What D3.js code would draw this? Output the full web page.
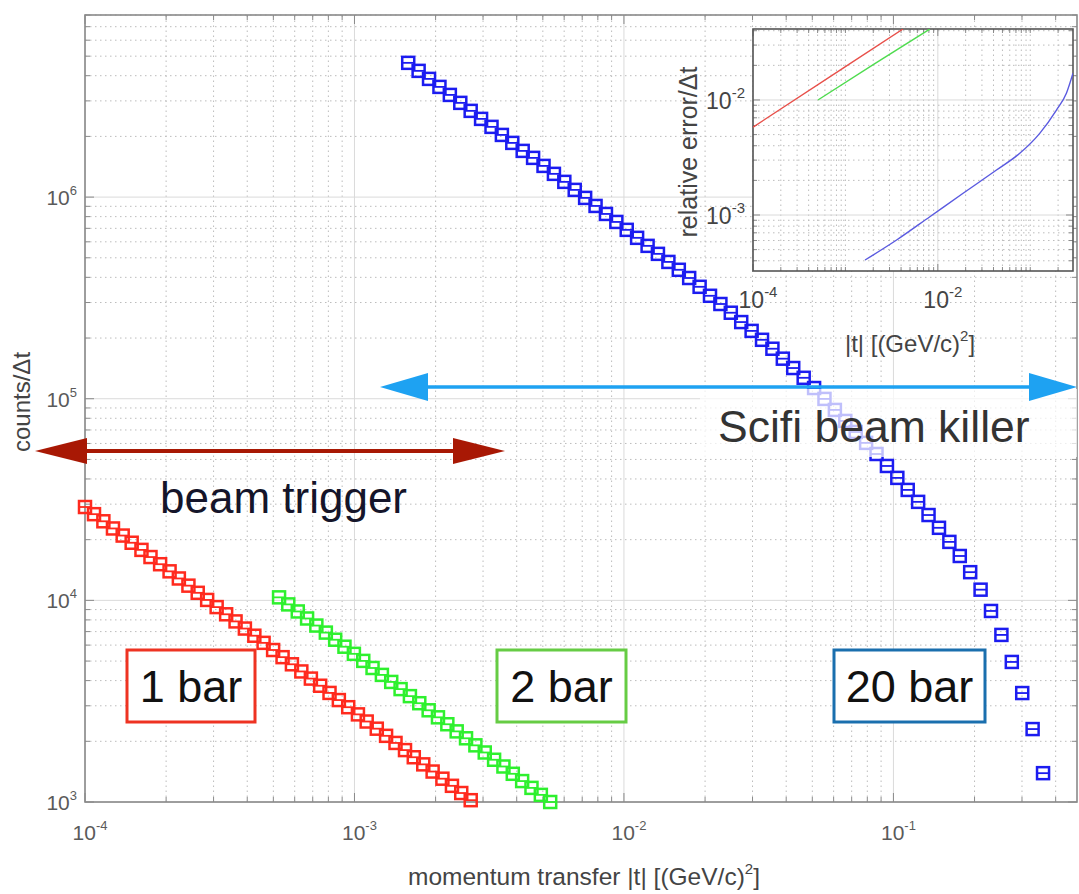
<!DOCTYPE html>
<html>
<head>
<meta charset="UTF-8">
<style>
  body { margin: 0; background: #fff; }
  svg { display: block; font-family: 'Liberation Sans', Arial, Helvetica, sans-serif; }
  .grid-minor { stroke: #bcbcbc; stroke-width: 1; stroke-dasharray: 1.5,3.5; }
  .grid-major { stroke: #dadada; stroke-width: 1; }
  .frame { fill: none; stroke: #8a8a8a; stroke-width: 1.6; }
  .tick { stroke: #8a8a8a; stroke-width: 1; }
  .ticklabel { fill: #5a5a5a; }
</style>
</head>
<body>
<svg id="chart" width="1079" height="894"></svg>
<script src="https://d3js.org/d3.v7.min.js"></script>
<script>
// ---- data ----
// 1 bar (red)
const tRed = [1.00e-4, 1.08e-4, 1.17e-4, 1.27e-4, 1.38e-4, 1.49e-4, 1.62e-4, 1.75e-4, 1.90e-4, 2.06e-4,
  2.23e-4, 2.42e-4, 2.62e-4, 2.84e-4, 3.08e-4, 3.34e-4, 3.62e-4, 3.92e-4, 4.25e-4, 4.60e-4,
  4.99e-4, 5.41e-4, 5.86e-4, 6.35e-4, 6.89e-4, 7.46e-4, 8.08e-4, 8.75e-4, 9.48e-4, 1.03e-3,
  1.11e-3, 1.21e-3, 1.31e-3, 1.42e-3, 1.54e-3, 1.66e-3, 1.80e-3, 1.95e-3, 2.12e-3, 2.30e-3,
  2.49e-3, 2.70e-3];
const cRed = [29040, 26760, 24670, 22730, 20960, 19310, 17800, 16400, 15110, 13930,
  12840, 11830, 10900, 10050, 9260, 8530, 7864, 7248, 6678, 6156,
  5673, 5228, 4819, 4441, 4093, 3772, 3475, 3203, 2952, 2720,
  2507, 2310, 2129, 1963, 1809, 1667, 1537, 1416, 1305, 1203,
  1108, 1021];
// 2 bar (green)
const tGreen = [5.25e-4, 5.68e-4, 6.16e-4, 6.67e-4, 7.22e-4, 7.83e-4, 8.48e-4, 9.18e-4, 9.95e-4, 1.078e-3,
  1.167e-3, 1.264e-3, 1.369e-3, 1.483e-3, 1.606e-3, 1.740e-3, 1.885e-3, 2.041e-3, 2.211e-3, 2.395e-3,
  2.594e-3, 2.810e-3, 3.044e-3, 3.297e-3, 3.571e-3, 3.868e-3, 4.190e-3, 4.538e-3, 4.916e-3, 5.325e-3];
const cGreen = [10350, 9550, 8810, 8130, 7500, 6920, 6380, 5890, 5430, 5010,
  4620, 4270, 3940, 3630, 3350, 3090, 2850, 2630, 2430, 2240,
  2070, 1910, 1760, 1620, 1500, 1380, 1270, 1175, 1085, 1000];
// 20 bar (blue)
const tBlue = [1.583e-3, 1.730e-3, 1.891e-3, 2.067e-3, 2.259e-3, 2.470e-3, 2.699e-3, 2.950e-3, 3.225e-3, 3.524e-3,
  3.852e-3, 4.210e-3, 4.601e-3, 5.030e-3, 5.497e-3, 6.008e-3, 6.567e-3, 7.177e-3, 7.846e-3, 8.575e-3,
  9.372e-3, 1.024e-2, 1.119e-2, 1.224e-2, 1.337e-2, 1.462e-2, 1.598e-2, 1.746e-2, 1.909e-2, 2.086e-2,
  2.280e-2, 2.492e-2, 2.724e-2, 2.977e-2, 3.254e-2, 3.556e-2, 3.887e-2, 4.248e-2, 4.645e-2, 5.077e-2,
  5.548e-2, 6.064e-2, 6.628e-2, 7.246e-2, 7.919e-2, 8.656e-2, 9.461e-2, 0.1034, 0.1130, 0.1235,
  0.1350, 0.1476, 0.1613, 0.1763, 0.1927, 0.2106, 0.2302, 0.2516, 0.2750, 0.3006,
  0.3285, 0.3591];
const cBlue = [4.632e6, 4.227e6, 3.857e6, 3.520e6, 3.212e6, 2.933e6, 2.677e6, 2.443e6, 2.230e6, 2.034e6,
  1.857e6, 1.695e6, 1.565e6, 1.428e6, 1.304e6, 1.190e6, 1.086e6, 9.91e5, 9.04e5, 8.25e5,
  7.53e5, 6.88e5, 6.28e5, 5.73e5, 5.23e5, 4.77e5, 4.36e5, 3.97e5, 3.59e5, 3.24e5,
  2.95e5, 2.67e5, 2.40e5, 2.17e5, 1.96e5, 1.77e5, 1.58e5, 1.42e5, 1.27e5, 1.13e5,
  9.98e4, 8.80e4, 7.76e4, 6.84e4, 6.04e4, 5.32e4, 4.64e4, 4.05e4, 3.53e4, 3.08e4,
  2.65e4, 2.29e4, 1.95e4, 1.66e4, 1.38e4, 1.13e4, 8.86e3, 6.74e3, 4.95e3, 3.47e3,
  2.30e3, 1.39e3];

// inset: relative error vs |t|
const insRedT = [1e-4, 1e-3, 4.2e-3];
const insRedE = [5.8e-3, 1.95e-2, 4.14e-2];
const insGreenT = [5.05e-4, 2e-3, 8.2e-3];
const insGreenE = [1.0e-2, 2.03e-2, 4.14e-2];
const insBlueT = [1.63e-3, 3.58e-3, 8.19e-3, 1.877e-2, 4.31e-2, 7.70e-2, 0.1266, 0.1920, 0.246, 0.290];
const insBlueE = [4.06e-4, 6.06e-4, 9.66e-4, 1.545e-3, 2.46e-3, 3.44e-3, 5.13e-3, 8.18e-3, 1.143e-2, 1.71e-2];

// tick labels (exponents of 10)
const xTickExp = [-4, -3, -2, -1];
const yTickExp = [3, 4, 5, 6];
const insXTickExp = [-4, -2];
const insYTickExp = [-3, -2];

// ---- layout ----
const svg = d3.select("#chart");
svg.append("rect").attr("width", 1079).attr("height", 894).attr("fill", "#fff");

const x = d3.scaleLog().domain([1e-4, 0.48]).range([85, 1077]);
const y = d3.scaleLog().domain([1e3, 8e6]).range([802, 15]);

function isDecade(v) {
  return Math.abs(Math.log10(v) - Math.round(Math.log10(v))) < 1e-9;
}

//draws dotted minor + solid major grid, frame and inward ticks
function drawAxesBox(g, sx, sy, opts) {
  const [x0, x1] = sx.range(), [y0, y1] = sy.range();
  const xt = sx.ticks(), yt = sy.ticks();
  const majX = opts.majX || isDecade, majY = opts.majY || isDecade;

  g.selectAll(null).data(xt).enter().append("line")
    .attr("class", d => majX(d) ? "grid-major" : "grid-minor")
    .attr("x1", d => sx(d)).attr("x2", d => sx(d))
    .attr("y1", y0).attr("y2", y1);
  g.selectAll(null).data(yt).enter().append("line")
    .attr("class", d => majY(d) ? "grid-major" : "grid-minor")
    .attr("y1", d => sy(d)).attr("y2", d => sy(d))
    .attr("x1", x0).attr("x2", x1);

  const ML = opts.major, ml = opts.minor;
  xt.forEach(d => {
    const L = majX(d) ? ML : ml;
    g.append("line").attr("class", "tick").attr("x1", sx(d)).attr("x2", sx(d)).attr("y1", y0).attr("y2", y0 - L);
    g.append("line").attr("class", "tick").attr("x1", sx(d)).attr("x2", sx(d)).attr("y1", y1).attr("y2", y1 + L);
  });
  yt.forEach(d => {
    const L = majY(d) ? ML : ml;
    g.append("line").attr("class", "tick").attr("y1", sy(d)).attr("y2", sy(d)).attr("x1", x0).attr("x2", x0 + L);
    g.append("line").attr("class", "tick").attr("y1", sy(d)).attr("y2", sy(d)).attr("x1", x1).attr("x2", x1 - L);
  });
  g.append("rect").attr("class", "frame")
    .attr("x", x0).attr("y", y1).attr("width", x1 - x0).attr("height", y0 - y1)
    .style("stroke", opts.frameColor || null);
}

function powLabel(g, px, py, e, size, anchor, color) {
  const t = g.append("text").attr("class", "ticklabel")
    .attr("x", px).attr("y", py)
    .attr("text-anchor", anchor)
    .style("font-size", size + "px")
    .style("fill", color || null);
  t.append("tspan").text("10");
  t.append("tspan").text(e).style("font-size", Math.round(size * 0.64) + "px")
    .attr("dy", -size * 0.48);
}

// main axes
const main = svg.append("g");
drawAxesBox(main, x, y, {major: 9, minor: 5});

xTickExp.forEach(e => powLabel(main, x(Math.pow(10, e)) + 5, 840, e, 21, "middle"));
yTickExp.forEach(e => powLabel(main, 77, y(Math.pow(10, e)) + 8, e, 21, "end"));

main.append("text")
  .attr("x", 584).attr("y", 885).attr("text-anchor", "middle")
  .style("font-size", "24.5px").style("fill", "#444")
  .call(t => {
    t.append("tspan").text("momentum transfer |t| [(GeV/c)");
    t.append("tspan").text("2").style("font-size", "15px").attr("dy", -11);
    t.append("tspan").text("]").attr("dy", 11);
  });

main.append("text")
  .attr("transform", "translate(30,402) rotate(-90)")
  .attr("text-anchor", "middle")
  .style("font-size", "24px").style("fill", "#444")
  .text("counts/\u0394t");

// markers: square with a bar through the middle
function drawMarkers(g, ts, cs, color) {
  const pts = ts.map((t, i) => ({t: t, c: cs[i]}));
  const m = g.selectAll(null).data(pts).enter().append("g")
    .attr("transform", d => "translate(" + x(d.t) + "," + y(d.c) + ")");
  m.append("rect")
    .attr("x", -6).attr("y", -6).attr("width", 12).attr("height", 12)
    .attr("fill", "none").attr("stroke", color).attr("stroke-width", 2.5);
  m.append("line")
    .attr("x1", -6).attr("x2", 6).attr("y1", 0).attr("y2", 0)
    .attr("stroke", color).attr("stroke-width", 1.8);
}

const marks = svg.append("g");
drawMarkers(marks, tRed, cRed, "#ff2a1e");
drawMarkers(marks, tGreen, cGreen, "#2ef02e");
drawMarkers(marks, tBlue, cBlue, "#1c1cf0");

// annotations
const ann = svg.append("g");

// washed out band behind the "Scifi" label
ann.append("rect")
  .attr("x", 700).attr("y", 389).attr("width", 377).attr("height", 68)
  .attr("fill", "#fff").attr("opacity", 0.72);

function doubleArrow(g, xa, xb, yy, color, headLen, headHalf, w) {
  g.append("line").attr("x1", xa + headLen - 2).attr("x2", xb - headLen + 2)
    .attr("y1", yy).attr("y2", yy)
    .attr("stroke", color).attr("stroke-width", w);
  g.append("path")
    .attr("d", `M${xa},${yy} L${xa + headLen},${yy - headHalf} L${xa + headLen},${yy + headHalf} Z`)
    .attr("fill", color);
  g.append("path")
    .attr("d", `M${xb},${yy} L${xb - headLen},${yy - headHalf} L${xb - headLen},${yy + headHalf} Z`)
    .attr("fill", color);
}

doubleArrow(ann, 35, 505, 451, "#a81804", 52, 13, 4);
doubleArrow(ann, 380, 1077, 387, "#1ea2f2", 48, 14, 3.5);

ann.append("text").attr("x", 160).attr("y", 513)
  .style("font-size", "44px").style("fill", "#15152a")
  .text("beam trigger");

ann.append("text").attr("x", 718).attr("y", 442)
  .style("font-size", "44.5px").style("fill", "#333")
  .text("Scifi beam killer");

function labelBox(g, bx, by, bw, bh, color, label) {
  g.append("rect").attr("x", bx).attr("y", by).attr("width", bw).attr("height", bh)
    .attr("fill", "#fff").attr("stroke", color).attr("stroke-width", 3);
  g.append("text").attr("x", bx + bw / 2).attr("y", by + bh / 2 + 16)
    .attr("text-anchor", "middle")
    .style("font-size", "45px").style("fill", "#111")
    .text(label);
}
labelBox(ann, 127, 650, 128, 72, "#ee3322", "1 bar");
labelBox(ann, 497, 650, 129, 72, "#66cc44", "2 bar");
labelBox(ann, 834, 650, 151, 72, "#1a6fae", "20 bar");

// ---- inset ----
const ix = d3.scaleLog().domain([1e-4, 0.29]).range([753, 1073]);
const iy = d3.scaleLog().domain([3.26e-4, 0.0414]).range([271, 29]);
const inset = svg.append("g");
inset.append("rect").attr("x", 753).attr("y", 29).attr("width", 320).attr("height", 242).attr("fill", "#fff");

const insClip = inset.append("clipPath").attr("id", "insClip");
insClip.append("rect").attr("x", 753).attr("y", 29).attr("width", 320).attr("height", 242);

drawAxesBox(inset, ix, iy, {
  major: 7, minor: 4, frameColor: "#555",
  majX: v => insXTickExp.some(e => Math.abs(v - Math.pow(10, e)) < 1e-12),
  majY: v => isDecade(v)
});

const lineGen = (sx, sy) => d3.line().x(d => sx(d[0])).y(d => sy(d[1]));
const insLines = inset.append("g").attr("clip-path", "url(#insClip)");
[[insRedT, insRedE, "#e8504a"], [insGreenT, insGreenE, "#4fdc4f"], [insBlueT, insBlueE, "#5a5ae0"]]
  .forEach(([ts, es, col]) => {
    insLines.append("path")
      .datum(ts.map((t, i) => [t, es[i]]))
      .attr("d", lineGen(ix, iy).curve(d3.curveMonotoneX))
      .attr("fill", "none").attr("stroke", col).attr("stroke-width", 1.4);
  });

insXTickExp.forEach(e => powLabel(inset, ix(Math.pow(10, e)) + 5, 308, e, 23, "middle", "#444"));
insYTickExp.forEach(e => powLabel(inset, 745, iy(Math.pow(10, e)) + 9, e, 23, "end", "#444"));

inset.append("text")
  .attr("transform", "translate(697,152) rotate(-90)")
  .attr("text-anchor", "middle")
  .style("font-size", "25px").style("fill", "#444")
  .text("relative error/\u0394t");

inset.append("text")
  .attr("x", 910).attr("y", 352).attr("text-anchor", "middle")
  .style("font-size", "24px").style("fill", "#444")
  .call(t => {
    t.append("tspan").text("|t| [(GeV/c)");
    t.append("tspan").text("2").style("font-size", "15px").attr("dy", -11);
    t.append("tspan").text("]").attr("dy", 11);
  });
</script>
</body>
</html>
